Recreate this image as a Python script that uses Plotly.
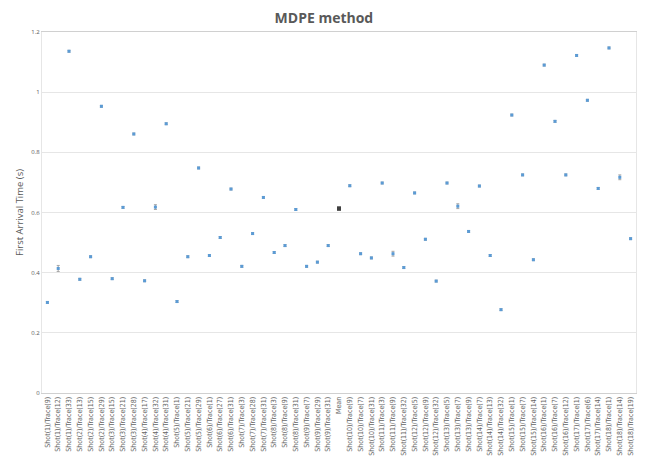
import plotly.graph_objects as go

categories = [
    "Shot(1)/Trace(9)", "Shot(1)/Trace(12)", "Shot(1)/Trace(33)",
    "Shot(2)/Trace(13)", "Shot(2)/Trace(15)", "Shot(2)/Trace(29)",
    "Shot(3)/Trace(15)", "Shot(3)/Trace(21)", "Shot(3)/Trace(28)",
    "Shot(4)/Trace(17)", "Shot(4)/Trace(32)", "Shot(4)/Trace(31)",
    "Shot(5)/Trace(1)", "Shot(5)/Trace(21)", "Shot(5)/Trace(29)",
    "Shot(6)/Trace(1)", "Shot(6)/Trace(27)", "Shot(6)/Trace(31)",
    "Shot(7)/Trace(3)", "Shot(7)/Trace(28)", "Shot(7)/Trace(31)",
    "Shot(8)/Trace(3)", "Shot(8)/Trace(9)", "Shot(8)/Trace(31)",
    "Shot(9)/Trace(7)", "Shot(9)/Trace(29)", "Shot(9)/Trace(31)",
    "Mean",
    "Shot(10)/Trace(9)", "Shot(10)/Trace(7)", "Shot(10)/Trace(31)",
    "Shot(11)/Trace(3)", "Shot(11)/Trace(9)", "Shot(11)/Trace(32)",
    "Shot(12)/Trace(5)", "Shot(12)/Trace(9)", "Shot(12)/Trace(32)",
    "Shot(13)/Trace(5)", "Shot(13)/Trace(7)", "Shot(13)/Trace(9)",
    "Shot(14)/Trace(7)", "Shot(14)/Trace(13)", "Shot(14)/Trace(32)",
    "Shot(15)/Trace(1)", "Shot(15)/Trace(7)", "Shot(15)/Trace(14)",
    "Shot(16)/Trace(1)", "Shot(16)/Trace(7)", "Shot(16)/Trace(12)",
    "Shot(17)/Trace(1)", "Shot(17)/Trace(6)", "Shot(17)/Trace(14)",
    "Shot(18)/Trace(1)", "Shot(18)/Trace(14)", "Shot(18)/Trace(19)",
]

values = [
    0.301, 0.414, 1.136, 0.378, 0.453, 0.953, 0.380, 0.617, 0.861,
    0.373, 0.618, 0.895, 0.304, 0.453, 0.748, 0.457, 0.517, 0.678,
    0.421, 0.530, 0.650, 0.467, 0.490, 0.610, 0.421, 0.435, 0.490,
    0.613,
    0.689, 0.463, 0.449, 0.698, 0.463, 0.417, 0.665, 0.511, 0.372,
    0.698, 0.621, 0.537, 0.688, 0.457, 0.277, 0.924, 0.725, 0.443,
    1.090, 0.903, 0.725, 1.122, 0.973, 0.680, 1.147, 0.717, 0.513,
]

errors = [
    0.003, 0.010, 0.003, 0.003, 0.003, 0.003, 0.003, 0.003, 0.003,
    0.003, 0.008, 0.003, 0.003, 0.003, 0.003, 0.003, 0.003, 0.003,
    0.003, 0.003, 0.003, 0.003, 0.003, 0.003, 0.003, 0.003, 0.003,
    0.006,
    0.003, 0.003, 0.003, 0.003, 0.008, 0.003, 0.003, 0.003, 0.003,
    0.003, 0.008, 0.003, 0.003, 0.003, 0.003, 0.003, 0.003, 0.003,
    0.003, 0.003, 0.003, 0.003, 0.003, 0.003, 0.003, 0.008, 0.003,
]

mean_label = "Mean"
shot_x = [c for c in categories if c != mean_label]
shot_y = [v for c, v in zip(categories, values) if c != mean_label]
shot_e = [e for c, e in zip(categories, errors) if c != mean_label]
mean_y = [v for c, v in zip(categories, values) if c == mean_label]
mean_e = [e for c, e in zip(categories, errors) if c == mean_label]

fig = go.Figure()
fig.add_trace(go.Scatter(
    x=shot_x, y=shot_y, mode="markers",
    marker=dict(symbol="square", size=3, color="#5B9BD5"),
    error_y=dict(type="data", array=shot_e, color="#A6A6A6", thickness=1, width=1.5),
    showlegend=False,
))
fig.add_trace(go.Scatter(
    x=[mean_label], y=mean_y, mode="markers",
    marker=dict(symbol="square", size=4, color="#404040"),
    error_y=dict(type="data", array=mean_e, color="#808080", thickness=1, width=2),
    showlegend=False,
))

fig.update_layout(
    width=646, height=469,
    margin=dict(l=34, r=18, t=24, b=84),
    paper_bgcolor="white", plot_bgcolor="white",
    font=dict(family="Open Sans", color="#595959"),
    title=dict(text="<b>MDPE method</b>", x=0.489, xanchor="center",
               y=0.979, yanchor="middle",
               font=dict(size=14, color="#595959", family="Open Sans")),
)
fig.update_xaxes(
    categoryorder="array", categoryarray=categories, automargin=False,
    tickangle=-90, tickfont=dict(size=7, color="#666666", family="DejaVu Sans Condensed, Open Sans"),
    showgrid=False, showline=True, linecolor="#D0D0D0", linewidth=1,
    mirror=True, ticks="", range=[-0.5, len(categories) - 0.5],
)
fig.update_yaxes(
    range=[0, 1.2], automargin=False,
    tickvals=[0, 0.2, 0.4, 0.6, 0.8, 1, 1.2],
    ticktext=["0", "0.2", "0.4", "0.6", "0.8", "1", "1.2"],
    tickfont=dict(size=6, color="#595959"),
    showgrid=True, gridcolor="#E6E6E6", gridwidth=1,
    showline=True, linecolor="#E6E6E6", mirror=True, zeroline=False,
    title=dict(text="First Arrival Time (s)", font=dict(size=9.5, color="#595959"), standoff=6),
)

fig.write_html("out.html")
